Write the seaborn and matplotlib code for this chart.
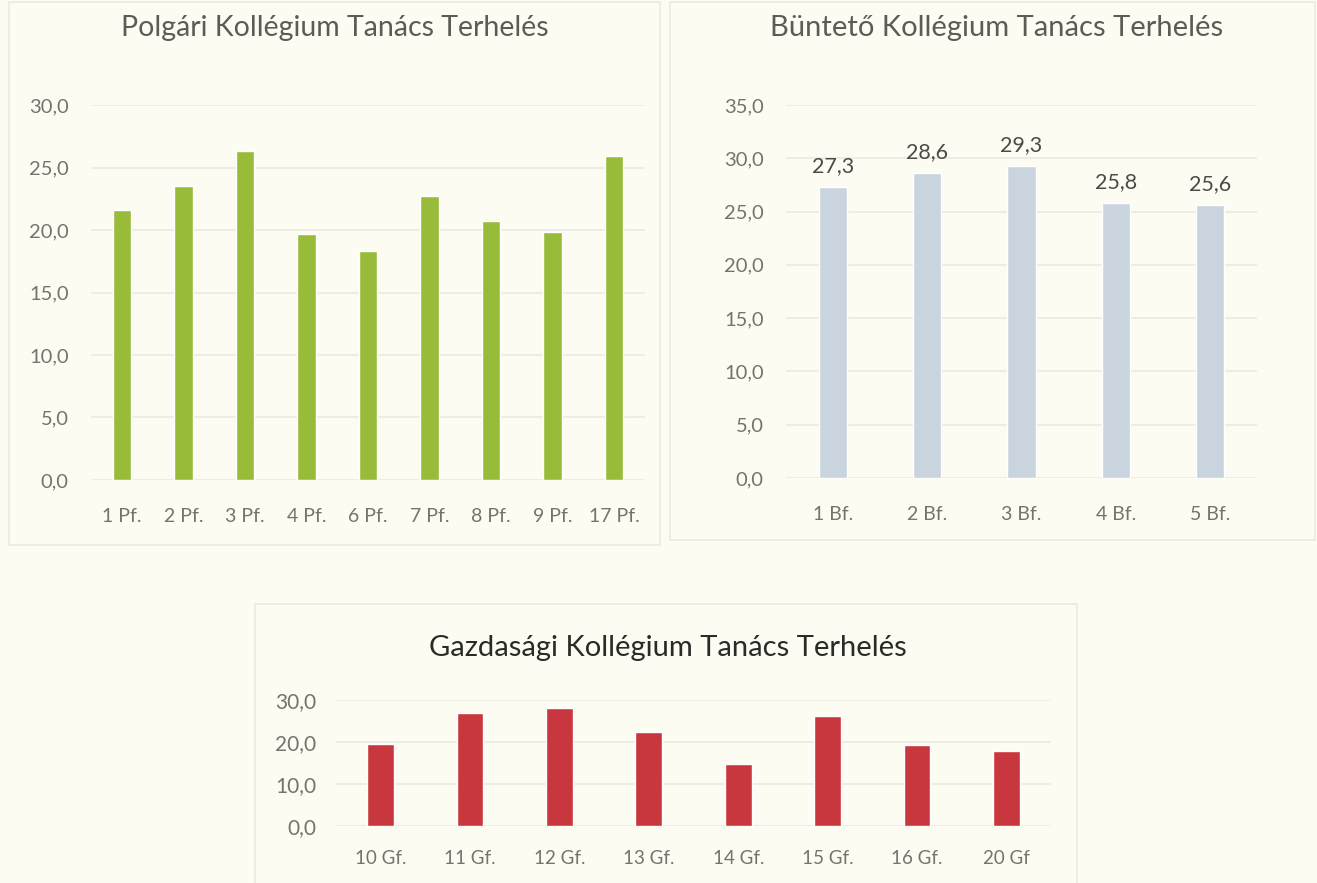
import matplotlib
matplotlib.use("Agg")
import matplotlib.pyplot as plt
from matplotlib.patches import Rectangle
import seaborn as sns
import pandas as pd

# --- Data ---
POLGARI_LABELS = ["1 Pf.", "2 Pf.", "3 Pf.", "4 Pf.", "6 Pf.", "7 Pf.", "8 Pf.", "9 Pf.", "17 Pf."]
POLGARI_VALUES = [21.6, 23.5, 26.3, 19.7, 18.3, 22.7, 20.7, 19.8, 25.9]

BUNTETO_LABELS = ["1 Bf.", "2 Bf.", "3 Bf.", "4 Bf.", "5 Bf."]
BUNTETO_VALUES = [27.3, 28.6, 29.3, 25.8, 25.6]

GAZDASAGI_LABELS = ["10 Gf.", "11 Gf.", "12 Gf.", "13 Gf.", "14 Gf.", "15 Gf.", "16 Gf.", "20 Gf"]
GAZDASAGI_VALUES = [19.6, 26.8, 28.1, 22.3, 14.8, 26.1, 19.2, 17.8]

# --- Style ---
COLOR_BG = "#fdfcf2"
COLOR_BORDER = "#ebeadf"
COLOR_GRID = "#ebeae0"
COLOR_TICK = "#74746c"
COLOR_TITLE = "#5c5c56"
GREEN = "#98bb3a"
BLUE = "#c9d4de"
RED = "#c8373d"

W, H = 1317, 883

sns.set_theme(style="white")
plt.rcParams["font.family"] = ["Lato", "DejaVu Sans"]


def frac(x0, y0, x1, y1):
    # pixel box (top-left origin) -> figure fractions
    return [x0 / W, 1 - y1 / H, (x1 - x0) / W, (y1 - y0) / H]


def panel(fig, x0, y0, x1, y1):
    l, b, w, h = frac(x0, y0, x1, y1)
    fig.patches.append(Rectangle((l, b), w, h, transform=fig.transFigure,
                                 fill=False, edgecolor=COLOR_BORDER, lw=1.2))


def bar_chart(ax, labels, values, color, ymax, step, xsize, ysize, xpad, ypad):
    df = pd.DataFrame({"label": labels, "value": values})
    sns.barplot(data=df, x="label", y="value", color=color, width=0.3,
                saturation=1, ax=ax, zorder=3)
    ax.set_facecolor(COLOR_BG)
    ax.set_ylim(0, ymax)
    ax.set_xlim(-0.5, len(labels) - 0.5)
    ticks = [i * step for i in range(int(ymax / step) + 1)]
    ax.set_yticks(ticks)
    ax.set_yticklabels([f"{t:.1f}".replace(".", ",") for t in ticks])
    ax.yaxis.grid(True, color=COLOR_GRID, lw=1.2, zorder=0)
    ax.set_xlabel("")
    ax.set_ylabel("")
    for s in ax.spines.values():
        s.set_visible(False)
    ax.tick_params(axis="both", length=0, colors=COLOR_TICK)
    ax.tick_params(axis="x", pad=xpad, labelsize=xsize)
    ax.tick_params(axis="y", pad=ypad, labelsize=ysize)


fig = plt.figure(figsize=(W / 100, H / 100), dpi=100)
fig.patch.set_facecolor(COLOR_BG)

panel(fig, 9, 2, 660, 545)
panel(fig, 670, 2, 1315, 540)
panel(fig, 255, 604, 1077, 890)

# Polgári
ax1 = fig.add_axes(frac(91, 105, 645, 480))
bar_chart(ax1, POLGARI_LABELS, POLGARI_VALUES, GREEN, 30, 5, 14, 14.5, 20, 16)
fig.text(335 / W, 1 - 28 / H, "Polgári Kollégium Tanács Terhelés",
         ha="center", va="center", fontsize=20.5, color=COLOR_TITLE)

# Büntető
ax2 = fig.add_axes(frac(786, 105, 1257, 478))
bar_chart(ax2, BUNTETO_LABELS, BUNTETO_VALUES, BLUE, 35, 5, 14, 14.5, 20, 16)
for cont in ax2.containers:
    ax2.bar_label(cont, labels=[f"{v:.1f}".replace(".", ",") for v in BUNTETO_VALUES],
                  padding=8, fontsize=15.5, color="#4a4a46")
fig.text(997 / W, 1 - 28 / H, "Büntető Kollégium Tanács Terhelés",
         ha="center", va="center", fontsize=21, color=COLOR_TITLE)

# Gazdasági
ax3 = fig.add_axes(frac(336, 700, 1051, 826))
bar_chart(ax3, GAZDASAGI_LABELS, GAZDASAGI_VALUES, RED, 30, 10, 13.5, 15, 17, 14)
fig.text(668 / W, 1 - 648 / H, "Gazdasági Kollégium Tanács Terhelés",
         ha="center", va="center", fontsize=21, color="#2a2a28")

fig.savefig("out.png", dpi=100, facecolor=COLOR_BG)
